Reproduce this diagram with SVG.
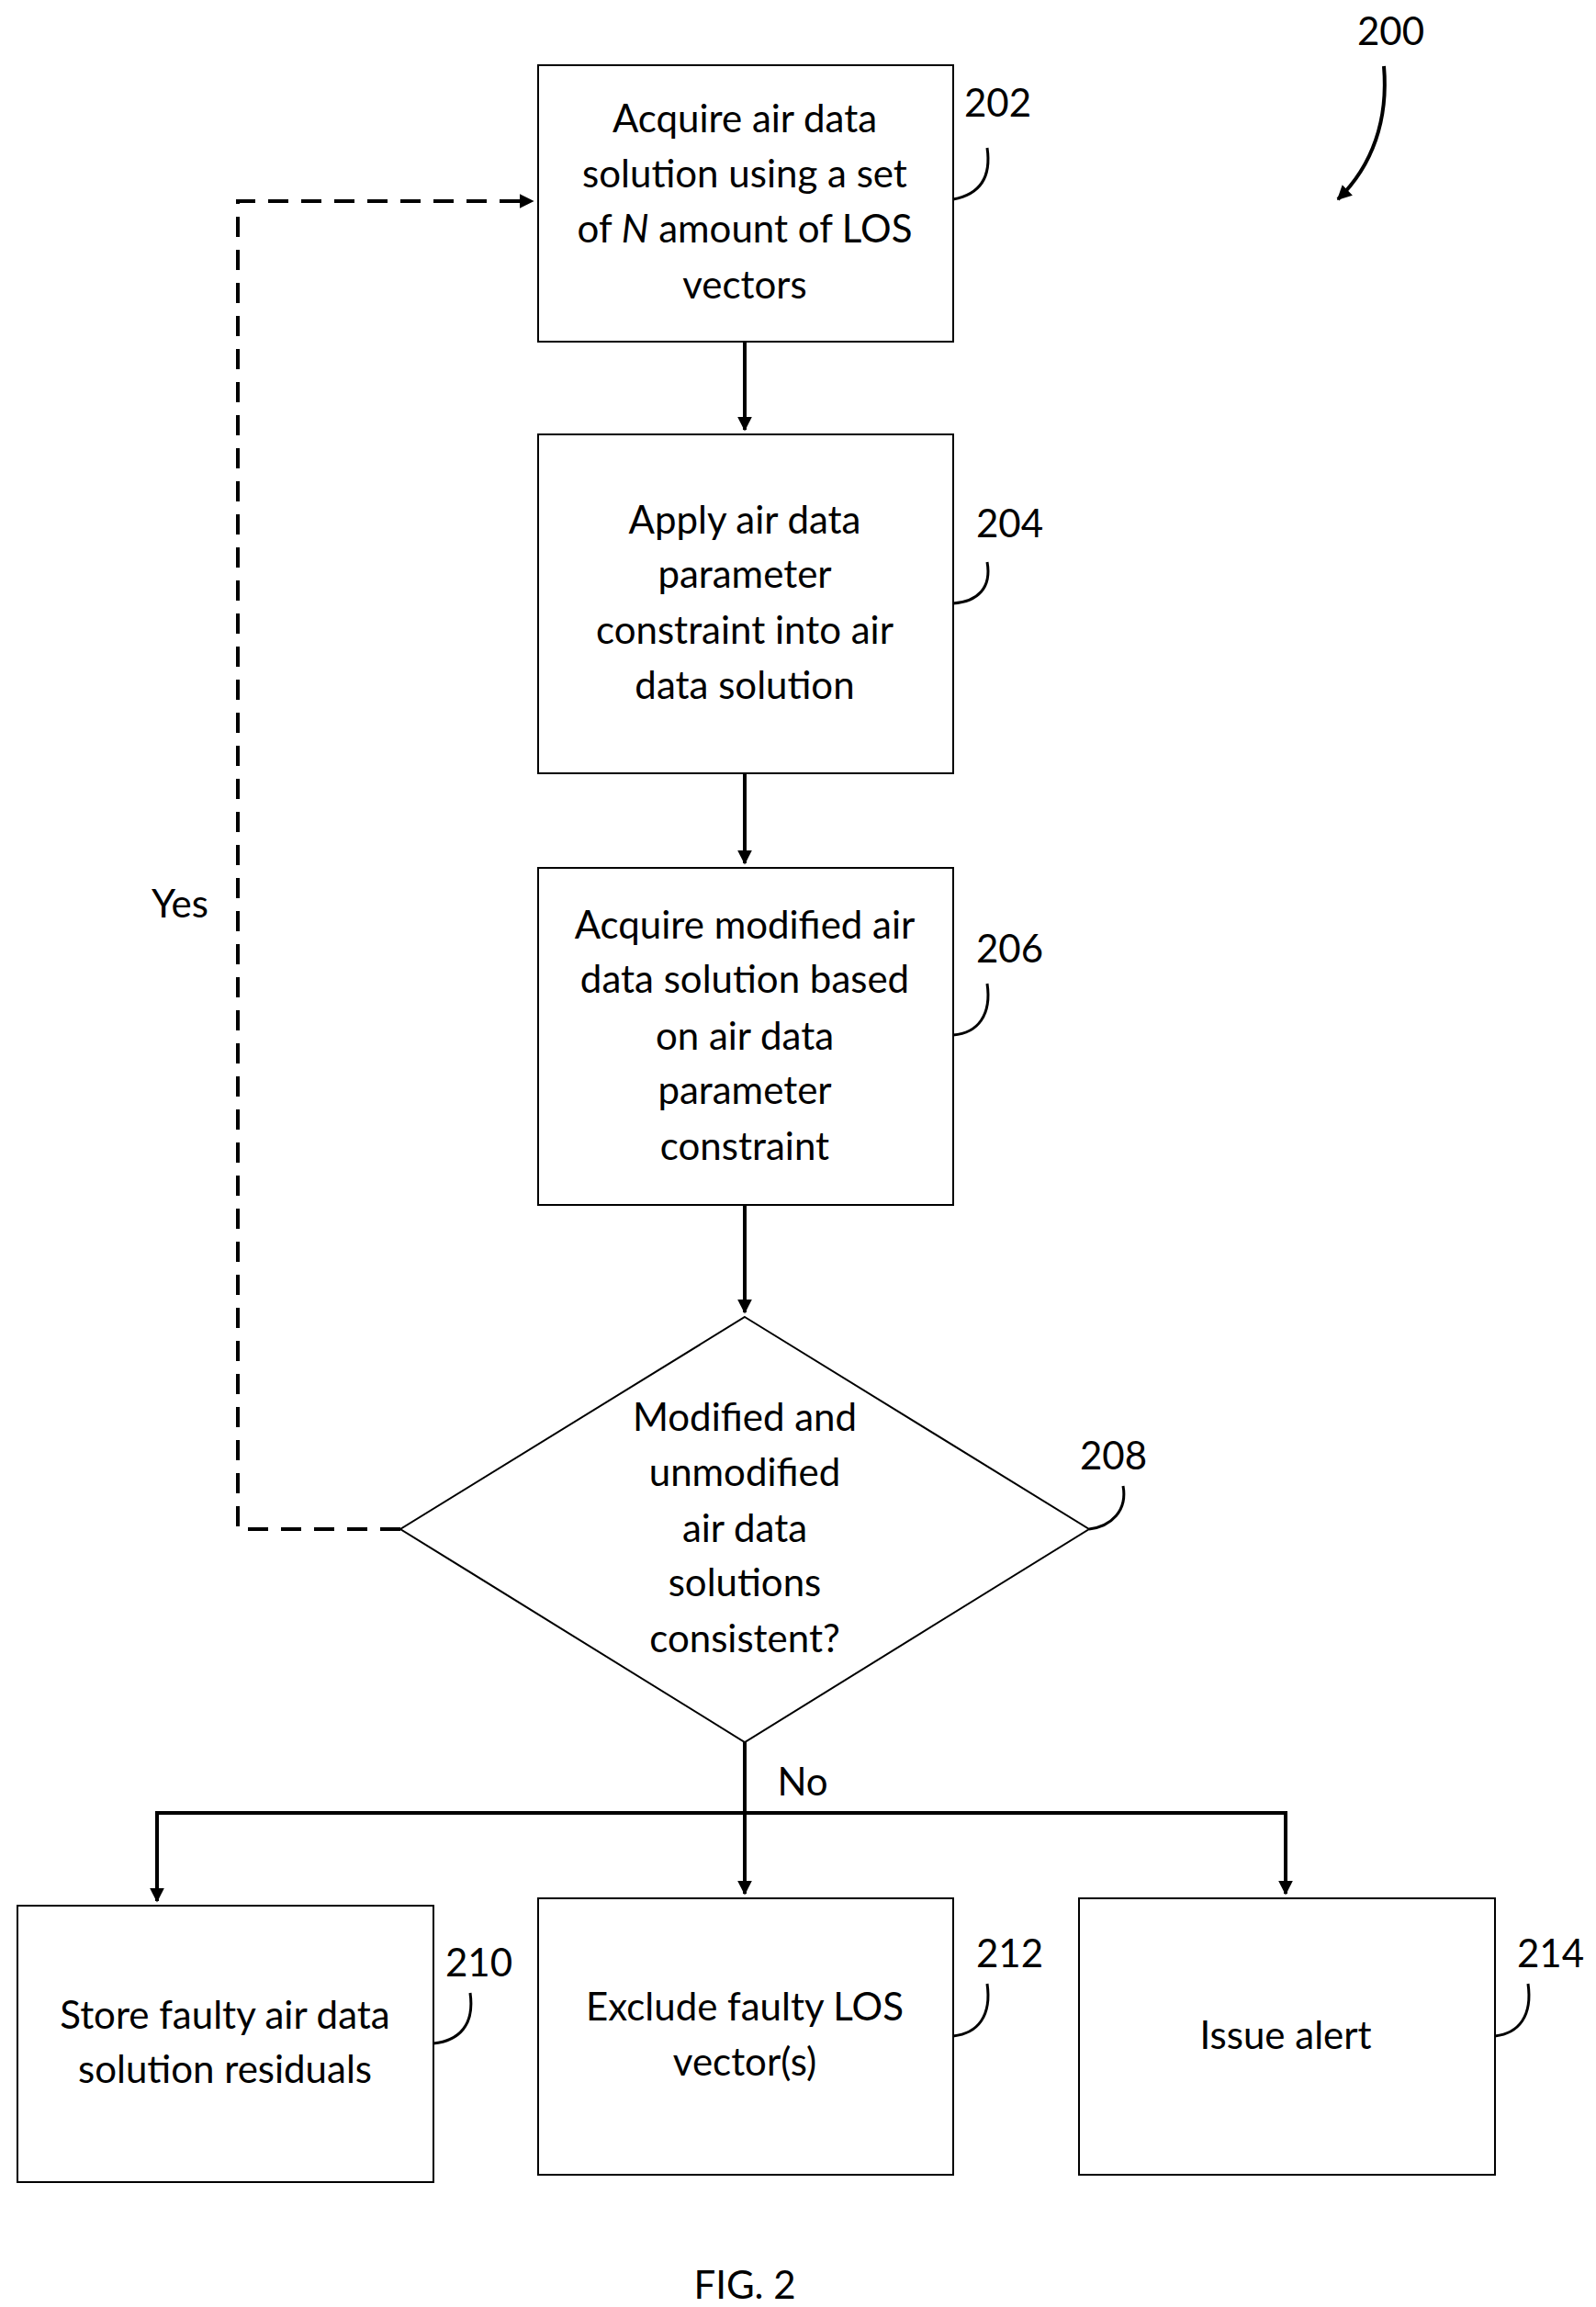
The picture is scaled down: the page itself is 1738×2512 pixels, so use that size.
<svg xmlns="http://www.w3.org/2000/svg" width="1738" height="2512" viewBox="0 0 1738 2512">
<style>
.b{fill:#fff;stroke:#000;stroke-width:2}
.t{font-family:Lato,"Liberation Sans",sans-serif;font-size:42px;text-anchor:middle;fill:#000}
.n{font-family:Lato,"Liberation Sans",sans-serif;font-size:42px;fill:#000}
.c{fill:none;stroke:#000;stroke-width:4}
.l{fill:none;stroke:#000;stroke-width:3}
</style>
<defs><marker id="a" viewBox="0 0 10 10" refX="9" refY="5" markerWidth="4" markerHeight="4" orient="auto"><path d="M0,0L10,5L0,10z" fill="#000"/></marker></defs>
<g id="connectors">
<line class="c" x1="811" y1="372" x2="811" y2="468" marker-end="url(#a)"/>
<line class="c" x1="811" y1="842" x2="811" y2="940" marker-end="url(#a)"/>
<line class="c" x1="811" y1="1312" x2="811" y2="1429" marker-end="url(#a)"/>
<polyline class="c" stroke-dasharray="22,14" points="436,1665 259,1665 259,219 580,219" marker-end="url(#a)"/>
<line class="c" x1="811" y1="1897" x2="811" y2="2062" marker-end="url(#a)"/>
<polyline class="c" points="171,2070 171,1974 1400,1974 1400,2062" marker-end="url(#a)"/>
<line class="c" x1="171" y1="2050" x2="171" y2="2070" marker-end="url(#a)"/>
<path class="c" d="M1507,72 C1512,130 1495,180 1457,217" marker-end="url(#a)"/>
<text class="n" x="196" y="999" text-anchor="middle">Yes</text>
<text class="n" x="874" y="1955" text-anchor="middle">No</text>
</g>
<g id="n202"><rect class="b" x="586" y="71" width="452" height="301"/>
<text class="t" x="811" y="144">Acquire air data</text><text class="t" x="811" y="204">solution using a set</text><text class="t" x="811" y="264">of <tspan font-style="italic">N</tspan> amount of LOS</text><text class="t" x="811" y="325">vectors</text>
<text class="n" x="1050" y="127">202</text><path class="l" d="M1075,161 C1080,195 1065,212 1038,217"/></g>
<g id="n204"><rect class="b" x="586" y="473" width="452" height="369"/>
<text class="t" x="811" y="581">Apply air data</text><text class="t" x="811" y="640">parameter</text><text class="t" x="811" y="701">constraint into air</text><text class="t" x="811" y="761">data solution</text>
<text class="n" x="1063" y="585">204</text><path class="l" d="M1075,612 C1080,640 1065,655 1038,657"/></g>
<g id="n206"><rect class="b" x="586" y="945" width="452" height="367"/>
<text class="t" x="811" y="1022">Acquire modified air</text><text class="t" x="811" y="1081">data solution based</text><text class="t" x="811" y="1143">on air data</text><text class="t" x="811" y="1202">parameter</text><text class="t" x="811" y="1263">constraint</text>
<text class="n" x="1063" y="1048">206</text><path class="l" d="M1075,1071 C1080,1105 1065,1125 1038,1127"/></g>
<g id="n208"><polygon class="b" points="811,1434 1186,1665 811,1897 436,1665"/>
<text class="t" x="811" y="1558">Modified and</text><text class="t" x="811" y="1618">unmodified</text><text class="t" x="811" y="1679">air data</text><text class="t" x="811" y="1738">solutions</text><text class="t" x="811" y="1799">consistent?</text>
<text class="n" x="1176" y="1600">208</text><path class="l" d="M1223,1618 C1228,1645 1210,1662 1186,1665"/></g>
<g id="n210"><rect class="b" x="19" y="2075" width="453" height="301"/>
<text class="t" x="245" y="2209">Store faulty air data</text><text class="t" x="245" y="2268">solution residuals</text>
<text class="n" x="485" y="2152">210</text><path class="l" d="M512,2170 C517,2205 500,2222 472,2225"/></g>
<g id="n212"><rect class="b" x="586" y="2067" width="452" height="301"/>
<text class="t" x="811" y="2200">Exclude faulty LOS</text><text class="t" x="811" y="2260">vector(s)</text>
<text class="n" x="1063" y="2142">212</text><path class="l" d="M1075,2160 C1080,2195 1065,2214 1038,2217"/></g>
<g id="n214"><rect class="b" x="1175" y="2067" width="453" height="301"/>
<text class="t" x="1400" y="2231">Issue alert</text>
<text class="n" x="1652" y="2142">214</text><path class="l" d="M1664,2160 C1669,2195 1654,2214 1628,2217"/></g>
<text class="n" x="1478" y="49">200</text>
<text class="t" x="811" y="2503">FIG. 2</text>
</svg>
